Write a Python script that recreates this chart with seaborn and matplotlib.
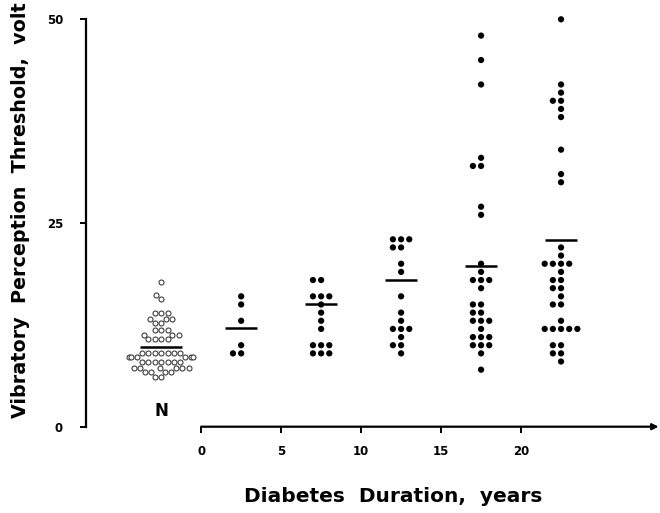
import numpy as np
import pandas as pd
import matplotlib
matplotlib.use("Agg")
import matplotlib.pyplot as plt
import seaborn as sns

# ---------------- data ----------------
group_names = ["N", "0-5", "5-10", "10-15", "15-20", ">20"]
group_positions = [-2.5, 2.5, 7.5, 12.5, 17.5, 22.5]   # years of diabetes (N = normal controls)

normal_vpt = [17.7, 16.2, 15.7, 14.0, 14.0, 14.0, 13.2, 13.2, 13.2, 12.7, 12.7,
              11.9, 11.9, 11.9, 11.3, 11.3, 11.3, 10.8, 10.8, 10.8, 10.8,
              9.1, 9.1, 9.1, 9.1, 9.1, 9.1, 9.1,
              8.5, 8.5, 8.5, 8.5, 8.5, 8.5,
              8.0, 8.0, 8.0, 8.0, 8.0, 8.0, 8.0,
              7.2, 7.2, 7.2, 7.2, 7.2, 7.2,
              6.7, 6.7, 6.7, 6.7, 6.1, 6.1]
dur_0_5 = [16, 15, 13, 10, 9, 9]
dur_5_10 = [18, 18, 16, 16, 16, 15, 14, 13, 12, 10, 10, 10, 9, 9, 9]
dur_10_15 = [23, 23, 23, 22, 22, 20, 19, 16, 14, 13, 12, 12, 12, 11, 10, 10, 9]
dur_15_20 = [48, 45, 42, 33, 32, 32, 27, 26, 20, 19, 18, 18, 18, 17, 15, 15,
             14, 14, 13, 13, 13, 12, 11, 11, 11, 10, 10, 10, 9, 7]
dur_20_plus = [50, 42, 41, 40, 40, 39, 38, 34, 31, 30, 22, 21, 20, 20, 20, 20,
               19, 18, 18, 17, 17, 16, 15, 15, 13, 12, 12, 12, 12, 12,
               10, 10, 9, 9, 8]
group_means = [9.8, 12.1, 15.05, 18.0, 19.75, 22.9]

x_ticks = [0, 5, 10, 15, 20]
y_ticks = [0, 25, 50]
x_label = "Diabetes  Duration,  years"
y_label = "Vibratory  Perception  Threshold,  volt"

# ---------------- table ----------------
all_lists = [normal_vpt, dur_0_5, dur_5_10, dur_10_15, dur_15_20, dur_20_plus]
df = pd.DataFrame({
    "duration": np.repeat(group_positions, [len(v) for v in all_lists]),
    "vpt": np.concatenate(all_lists),
})

# ---------------- figure ----------------
sns.set_theme(style="white")
plt.rcParams["font.family"] = ["DejaVu Sans"]

fig = plt.figure(figsize=(6.6, 5.13), dpi=100)
ax = fig.add_axes([86 / 660, 1 - 426.7 / 513, (657 - 86) / 660, (426.7 - 19.3) / 513])

sns.swarmplot(data=df, x="duration", y="vpt", native_scale=True, orient="x",
              color="black", size=4.5, linewidth=1.1, edgecolor="none",
              ax=ax, clip_on=False, zorder=3)

# normal controls: small open circles
for coll in ax.collections:
    offs = coll.get_offsets()
    if len(offs) and np.isclose(np.mean(offs[:, 0]), group_positions[0], atol=1.5):
        coll.set_facecolor("white")
        coll.set_edgecolor("#333333")
        coll.set_linewidth(0.75)
        coll.set_sizes([3.6 ** 2])

half_w = np.array([1.3, 1.0, 1.0, 1.0, 1.0, 1.0])
pos = np.array(group_positions)
ax.hlines(group_means, pos - half_w, pos + half_w, color="black", lw=1.8, zorder=4)

ax.set_xlim(-7.2, 28.5)
ax.set_ylim(0, 50)

for s in ["top", "right", "bottom"]:
    ax.spines[s].set_visible(False)
ax.spines["left"].set_color("black")
ax.spines["left"].set_linewidth(1.6)
ax.annotate("", xy=(28.6, 0), xytext=(0, 0), xycoords="data",
            arrowprops=dict(arrowstyle="-|>", lw=1.6, color="black", mutation_scale=9,
                            shrinkA=0, shrinkB=0),
            annotation_clip=False)

ax.set_xticks(x_ticks)
ax.set_yticks(y_ticks)
ax.tick_params(axis="both", direction="out", length=4.5, width=1.4, colors="black",
               labelsize=8.5, bottom=True, left=True)
ax.tick_params(axis="x", pad=9)
ax.tick_params(axis="y", pad=12)
for lab in ax.get_xticklabels() + ax.get_yticklabels():
    lab.set_fontweight("bold")

ax.set_xlabel("")
ax.set_ylabel("")
ax.text(group_positions[0], 1.9, "N", ha="center", va="center",
        fontsize=12, fontweight="bold", color="black")

fig.text(393 / 660, 1 - 497 / 513, x_label, ha="center", va="center",
         fontsize=14.5, fontweight="bold", color="black")
fig.text(21 / 660, 1 - 210 / 513, y_label, ha="center", va="center", rotation=90,
         fontsize=13.8, fontweight="bold", color="black")

fig.savefig("out.png", dpi=100, facecolor="white")
